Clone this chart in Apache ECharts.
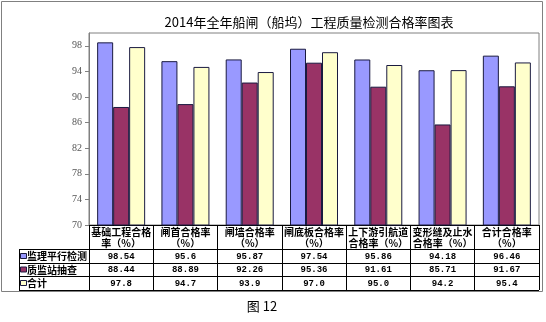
<!DOCTYPE html>
<html><head><meta charset="utf-8">
<script src="https://cdn.jsdelivr.net/npm/echarts@6/dist/echarts.min.js"></script>
<style>html,body{margin:0;padding:0;background:#fff}#c{width:546px;height:322px}</style>
</head><body><div id="c"></div>
<script>
const titleText = '2014年全年船闸（船坞）工程质量检测合格率图表';
const categories = ['基础工程合格\n率（%）','闸首合格率\n（%）','闸墙合格率\n（%）','闸底板合格率\n（%）','上下游引航道\n合格率（%）','变形缝及止水\n合格率（%）','合计合格率\n（%）'];
const seriesNames = ['监理平行检测','质监站抽查','合计'];
const supervision = [98.54, 95.6, 95.87, 97.54, 95.86, 94.18, 96.46];
const stationCheck = [88.44, 88.89, 92.26, 95.36, 91.61, 85.71, 91.67];
const total = [97.8, 94.7, 93.9, 97.0, 95.0, 94.2, 95.4];
const totalText = ['97.8','94.7','93.9','97.0','95.0','94.2','95.4'];
const yMin = 70, yMax = 100, yInterval = 4;
const captionText = '图 12';

const colors = ['#9999FF','#993366','#FFFFCC'];
const seriesData = [supervision, stationCheck, total];
const seriesText = [supervision.map(String), stationCheck.map(String), totalText];

const chart = echarts.init(document.getElementById('c'));
const grid = {left: 89, right: 7, top: 33, bottom: 97};
chart.setOption({
  animation: false,
  backgroundColor: '#fff',
  title: {text: titleText, left: 304, top: 11, textAlign: 'center',
    textStyle: {fontFamily: 'Noto Sans CJK SC', fontSize: 13, fontWeight: 'normal', color: '#000'}},
  grid: Object.assign({show: true, borderColor: '#808080', borderWidth: 1, backgroundColor: '#fff'}, grid),
  xAxis: {type: 'category', data: categories,
    axisLine: {lineStyle: {color: '#000'}},
    axisTick: {show: true, length: 65, lineStyle: {color: '#000'}},
    axisLabel: {margin: 2, interval: 0, fontFamily: 'Noto Sans CJK SC', fontSize: 10, fontWeight: 'bold', color: '#000', lineHeight: 11}},
  yAxis: {type: 'value', min: yMin, max: yMax, interval: yInterval,
    axisLine: {show: true, lineStyle: {color: '#808080'}},
    axisTick: {show: true, length: 4, lineStyle: {color: '#808080'}},
    axisLabel: {showMaxLabel: false, margin: 7, fontFamily: 'Liberation Serif', fontSize: 10, color: '#555'},
    splitLine: {show: false}},
  series: seriesNames.map((n, i) => ({
    name: n, type: 'bar', data: seriesData[i], barWidth: 16, barGap: '0%',
    itemStyle: {color: colors[i], borderColor: '#1a1a40', borderWidth: 1}
  }))
});

// data table below axis
const axisY = 322 - grid.bottom;
const rightX = 546 - grid.right;
const rowYs = [249, 263, 276, 290];
const legendLeft = 19;
const g = [];
// outer frame
g.push({type: 'rect', shape: {x: 1.5, y: 1.5, width: 541, height: 290}, style: {fill: null, stroke: '#808080', lineWidth: 1}, z: 0, silent: true});
rowYs.forEach(y => g.push({type: 'line', shape: {x1: legendLeft, y1: y + 0.5, x2: rightX, y2: y + 0.5}, style: {stroke: '#000', lineWidth: 1}, z: 10}));
g.push({type: 'line', shape: {x1: legendLeft + 0.5, y1: rowYs[0], x2: legendLeft + 0.5, y2: rowYs[3]}, style: {stroke: '#000', lineWidth: 1}, z: 10});
g.push({type: 'line', shape: {x1: rightX + 0.5, y1: axisY, x2: rightX + 0.5, y2: rowYs[3]}, style: {stroke: '#000', lineWidth: 1}, z: 10});
seriesNames.forEach((n, r) => {
  const cy = (rowYs[r] + rowYs[r + 1]) / 2 + 0.5;
  g.push({type: 'rect', shape: {x: legendLeft + 1.5, y: cy - 3, width: 6, height: 5}, style: {fill: colors[r], stroke: '#1a1a40', lineWidth: 1}, z: 10});
  g.push({type: 'text', style: {text: n, x: legendLeft + 8, y: cy, textVerticalAlign: 'middle', verticalAlign: 'middle', fontFamily: 'Noto Sans CJK SC', fontSize: 10, fontWeight: 'bold', fill: '#000'}, z: 10});
  seriesText[r].forEach((t, i) => {
    const cx = chart.convertToPixel({xAxisIndex: 0}, i);
    g.push({type: 'text', style: {text: t, x: cx, y: cy, align: 'center', textAlign: 'center', verticalAlign: 'middle', textVerticalAlign: 'middle', fontFamily: 'Liberation Mono', fontSize: 9, fontWeight: 'bold', fill: '#000'}, z: 10});
  });
});
g.push({type: 'text', style: {text: captionText, x: 262, y: 306, align: 'center', textAlign: 'center', verticalAlign: 'middle', textVerticalAlign: 'middle', fontFamily: 'Noto Sans CJK SC', fontSize: 13, fill: '#000'}});
chart.setOption({graphic: g});
</script></body></html>
